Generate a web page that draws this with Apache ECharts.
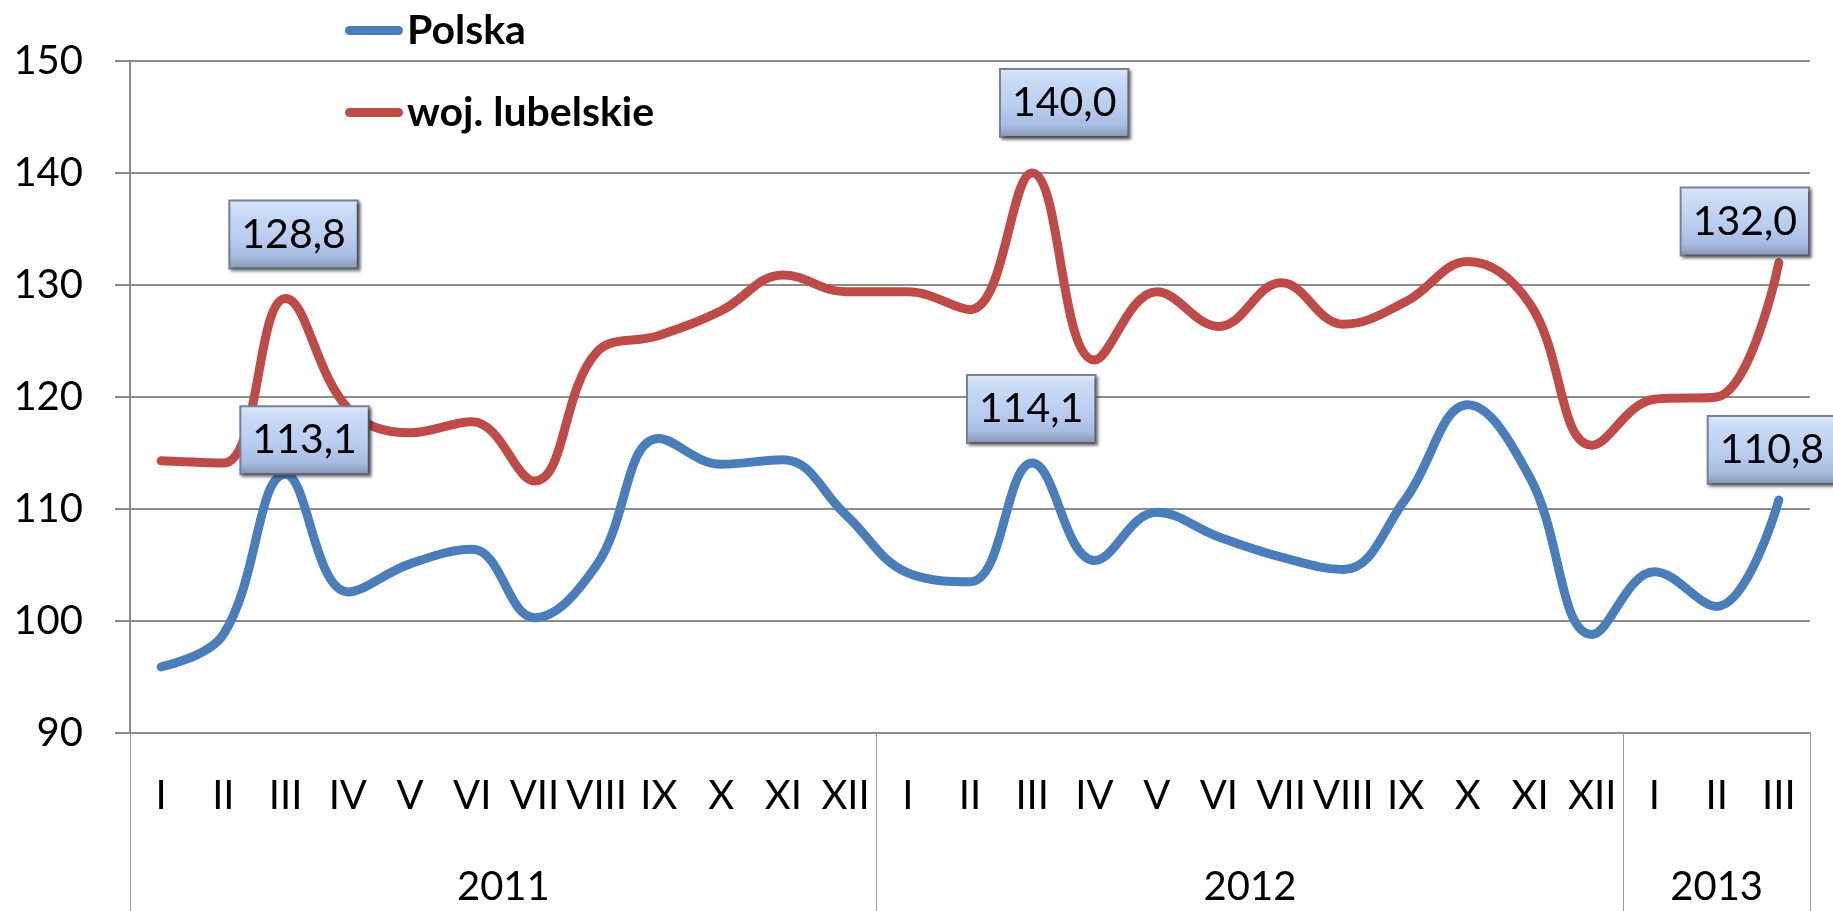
<!DOCTYPE html>
<html>
<head>
<meta charset="utf-8">
<style>
  html, body { margin: 0; padding: 0; background: #ffffff; }
  #chart { width: 1833px; height: 911px; }
</style>
<script src="https://cdn.jsdelivr.net/npm/echarts@6.0.0/dist/echarts.min.js"></script>
</head>
<body>
<div id="chart"></div>
<script>
// ---- data ----
const monthNames = ['I','II','III','IV','V','VI','VII','VIII','IX','X','XI','XII'];
const years = ['2011','2012','2013'];
const monthsPerYear = [12, 12, 3];
const seriesNames = ['Polska', 'woj. lubelskie'];
const polska = [95.9, 98.8, 113.1, 102.6, 105.1, 106.4, 100.3, 105.0, 116.3, 114.0, 114.4, 109.5,
                104.3, 103.5, 114.1, 105.4, 109.7, 107.5, 105.7, 104.6, 110.9, 119.3, 112.8, 98.8,
                104.4, 101.3, 110.8];
const lubelskie = [114.3, 114.1, 128.8, 119.0, 116.8, 117.8, 112.5, 124.0, 125.5, 127.7, 130.9, 129.4,
                   129.4, 127.8, 140.0, 123.3, 129.4, 126.3, 130.2, 126.5, 128.5, 132.1, 128.3, 115.7,
                   119.8, 120.0, 132.0];
const labelledIndices = [2, 14, 26];
const yTicks = { min: 90, max: 150, step: 10 };

// ---- derived category structure ----
const categories = [];
monthsPerYear.forEach(n => { for (let i = 0; i < n; i++) categories.push(monthNames[i]); });
const boundaries = [0];
monthsPerYear.forEach(n => boundaries.push(boundaries[boundaries.length - 1] + n));
const yearCenters = years.map((y, i) => (boundaries[i] + boundaries[i + 1]) / 2);
const total = boundaries[boundaries.length - 1];

// ---- styles ----
const FONT = 'Lato, "Open Sans", sans-serif';
const GRID = '#8c8c8c';
const COLORS = ['#4a7ebb', '#be4b48'];
const labelPlacement = {
  // [dx, distance] per labelled index, per series (style only)
  0: { 2: [19, 1], 14: [-1, 21], 26: [-7, 17] },
  1: { 2: [8, 31], 14: [32, 37], 26: [-34, 8] }
};
const boxStyle = {
  show: true,
  position: 'top',
  formatter: p => p.value.toFixed(1).replace('.', ','),
  fontFamily: FONT,
  fontSize: 41,
  lineHeight: 40,
  color: '#000',
  padding: [13, 11, 13, 11],
  borderColor: '#76829a',
  borderWidth: 2,
  backgroundColor: {
    type: 'linear', x: 0, y: 0, x2: 0, y2: 1,
    colorStops: [
      { offset: 0, color: '#dde8f9' },
      { offset: 0.18, color: '#c9daf5' },
      { offset: 0.55, color: '#b9cdf0' },
      { offset: 0.82, color: '#a8bce2' },
      { offset: 1, color: '#8492ab' }
    ]
  },
  shadowColor: 'rgba(0,0,0,0.45)',
  shadowBlur: 3,
  shadowOffsetX: 2,
  shadowOffsetY: 2
};

function buildData(values, sIdx) {
  return values.map((v, i) => {
    if (labelledIndices.indexOf(i) < 0) return v;
    const pl = labelPlacement[sIdx][i];
    return { value: v, label: Object.assign({}, boxStyle, { offset: [pl[0], 0], distance: pl[1] }) };
  });
}

const chart = echarts.init(document.getElementById('chart'), null, { renderer: 'canvas' });
chart.setOption({
  backgroundColor: '#ffffff',
  animation: false,
  grid: { left: 130, right: 23, top: 61, bottom: 178, containLabel: false },
  legend: {
    data: seriesNames,
    orient: 'vertical',
    left: 340,
    top: 5,
    itemWidth: 58,
    itemHeight: 9,
    itemGap: 41,
    icon: 'path://M4.5 0H53.5A4.5 4.5 0 0 1 53.5 9H4.5A4.5 4.5 0 0 1 4.5 0Z',
    textStyle: { fontFamily: FONT, fontSize: 41, fontWeight: 'bold', color: '#000', padding: [0, 0, 0, -1] }
  },
  xAxis: [
    {
      type: 'category',
      data: categories,
      boundaryGap: true,
      axisLine: { show: true, lineStyle: { color: GRID, width: 2 } },
      axisTick: { show: false },
      axisLabel: { interval: 0, margin: 43, fontFamily: FONT, fontSize: 40, color: '#000' },
      splitLine: { show: false }
    },
    {
      type: 'value',
      position: 'bottom',
      min: 0,
      max: total,
      axisLine: { show: false },
      splitLine: { show: false },
      axisTick: { show: true, customValues: boundaries, length: 178, inside: false,
                  lineStyle: { color: '#9a9a9a', width: 1 } },
      axisLabel: { show: true, customValues: yearCenters, margin: 134,
                   formatter: v => years[yearCenters.indexOf(v)],
                   fontFamily: FONT, fontSize: 40, color: '#000' }
    }
  ],
  yAxis: {
    type: 'value',
    min: yTicks.min,
    max: yTicks.max,
    interval: yTicks.step,
    axisLine: { show: true, lineStyle: { color: GRID, width: 2 } },
    axisTick: { show: true, length: 15, lineStyle: { color: GRID, width: 2 } },
    axisLabel: { margin: 47, fontFamily: FONT, fontSize: 40, color: '#000' },
    splitLine: { show: true, lineStyle: { color: GRID, width: 2 } }
  },
  series: [
    {
      name: seriesNames[0], type: 'line', xAxisIndex: 0, data: buildData(polska, 0),
      smooth: 0.4, showSymbol: true, symbol: 'circle', symbolSize: 0,
      lineStyle: { color: COLORS[0], width: 9, cap: 'round', join: 'round' },
      itemStyle: { color: COLORS[0] },
      label: { show: false }, z: 3
    },
    {
      name: seriesNames[1], type: 'line', xAxisIndex: 0, data: buildData(lubelskie, 1),
      smooth: 0.4, showSymbol: true, symbol: 'circle', symbolSize: 0,
      lineStyle: { color: COLORS[1], width: 9, cap: 'round', join: 'round' },
      itemStyle: { color: COLORS[1] },
      label: { show: false }, z: 2
    }
  ]
});
</script>
</body>
</html>
